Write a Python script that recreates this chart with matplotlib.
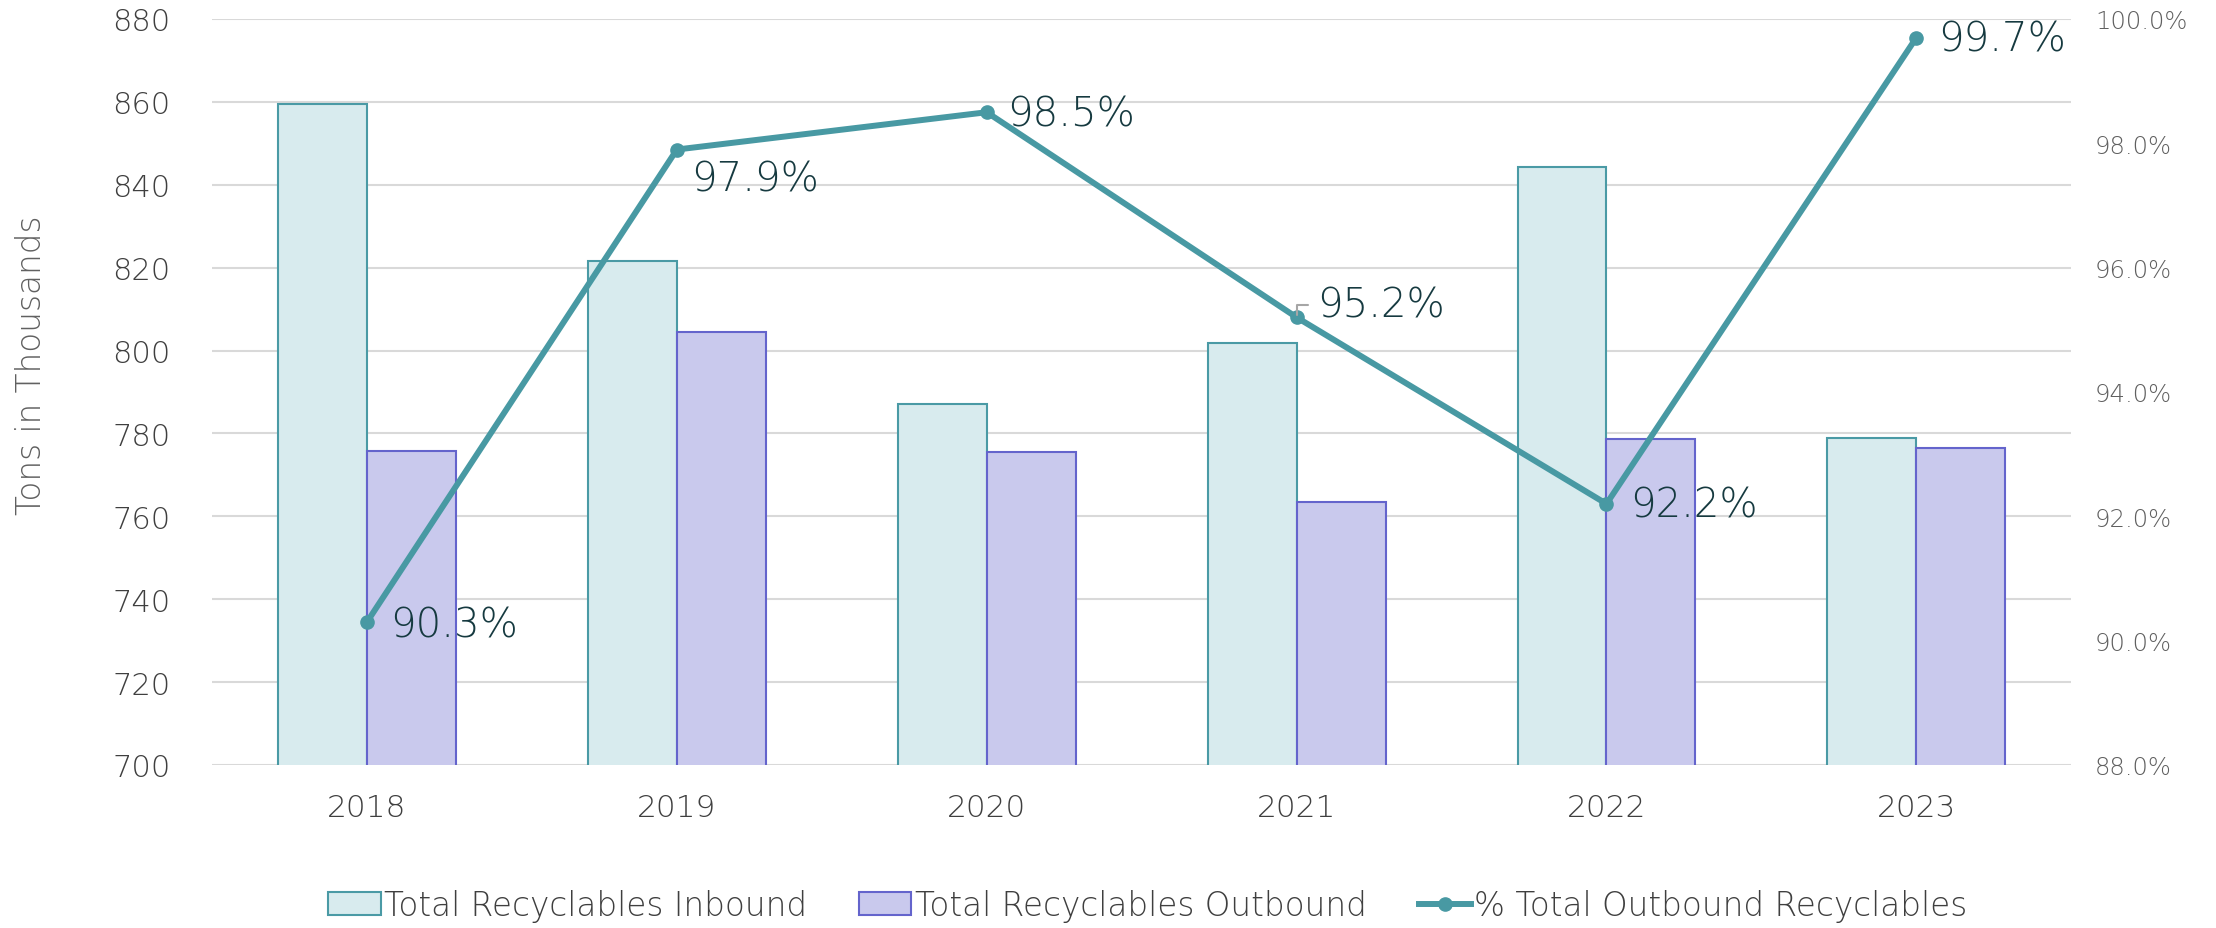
import numpy as np
import matplotlib
matplotlib.use("Agg")
import matplotlib.pyplot as plt
from matplotlib.ticker import FuncFormatter

# data
years = ["2018", "2019", "2020", "2021", "2022", "2023"]
inbound = [859.4, 821.5, 787.1, 801.8, 844.4, 778.9]   # tons in thousands
outbound = [775.8, 804.5, 775.5, 763.5, 778.6, 776.5]
pct_out = [90.3, 97.9, 98.5, 95.2, 92.2, 99.7]         # % outbound
# label offsets (points) for each percentage label
lbl_dx = [17, 10, 15, 15, 17, 16]
lbl_dy = [-2, -21, -1, 9, -1, -1]

plt.rcParams['font.family'] = ['DejaVu Sans']
plt.rcParams['font.weight'] = 'light'

fig = plt.figure(figsize=(22.16, 9.29), dpi=100)
ax = fig.add_axes([0.0957, 0.1755, 0.839, 0.803])
ax2 = ax.twinx()

x = np.arange(len(years))
w = 0.287
ax.bar(x - w/2, inbound, w, color="#d8ebee", edgecolor="#4a9aa5", linewidth=1.5,
       label="Total Recyclables Inbound", zorder=2)
ax.bar(x + w/2, outbound, w, color="#c9c9ed", edgecolor="#6464cc", linewidth=1.5,
       label="Total Recyclables Outbound", zorder=2)

ax.set_ylim(700, 880)
ax.set_yticks(np.arange(700, 881, 20))
ax.set_xlim(-0.5, len(years) - 0.5)
ax.set_xticks(x)
ax.set_xticklabels(years)
ax.grid(axis="y", color="#d9d9d9", linewidth=1.5, zorder=0)
ax.set_axisbelow(True)
for s in ax.spines.values():
    s.set_visible(False)
for s in ax2.spines.values():
    s.set_visible(False)
ax.tick_params(axis="y", length=0, pad=30, labelsize=22, labelcolor="#3f3f3f")
ax.tick_params(axis="x", length=0, pad=20, labelsize=22.5, labelcolor="#3f3f3f")

ln, = ax2.plot(x, pct_out, color="#4899a3", linewidth=4.3, marker="o", markersize=9.5,
               label="% Total Outbound Recyclables", zorder=3)
ax2.set_ylim(88, 100)
ax2.set_yticks(np.arange(88, 100.1, 2))
ax2.yaxis.set_major_formatter(FuncFormatter(lambda v, p: f"{v:.1f}%"))
ax2.tick_params(axis="y", length=0, pad=17, labelsize=17.5, labelcolor="#606060")

for i, v in enumerate(pct_out):
    ax2.annotate(f"{v:.1f}%", (x[i], v), xytext=(lbl_dx[i], lbl_dy[i]),
                 textcoords="offset points", ha="left", va="center",
                 fontsize=29, color="#163a40", zorder=4)
# small leader line on the 2021 label
ax2.annotate("", (x[3], pct_out[3]), xytext=(10, 9), textcoords="offset points",
             arrowprops=dict(arrowstyle="-", color="#a6a6a6", lw=1.5,
                             connectionstyle="angle,angleA=0,angleB=90,rad=0"))

fig.text(0.014, 0.607, "Tons in Thousands", rotation=90, ha="center", va="center",
         fontsize=23.5, color="#606060")

handles = [ax.containers[0], ax.containers[1], ln]
labels = [h.get_label() for h in handles]
fig.legend(handles, labels, loc="center", bbox_to_anchor=(0.518, 0.024), ncol=3,
           frameon=False, fontsize=23.5, labelcolor="#3f3f3f", handlelength=1.6,
           handletextpad=0.1, columnspacing=1.6)

fig.savefig("out.png", dpi=100)
